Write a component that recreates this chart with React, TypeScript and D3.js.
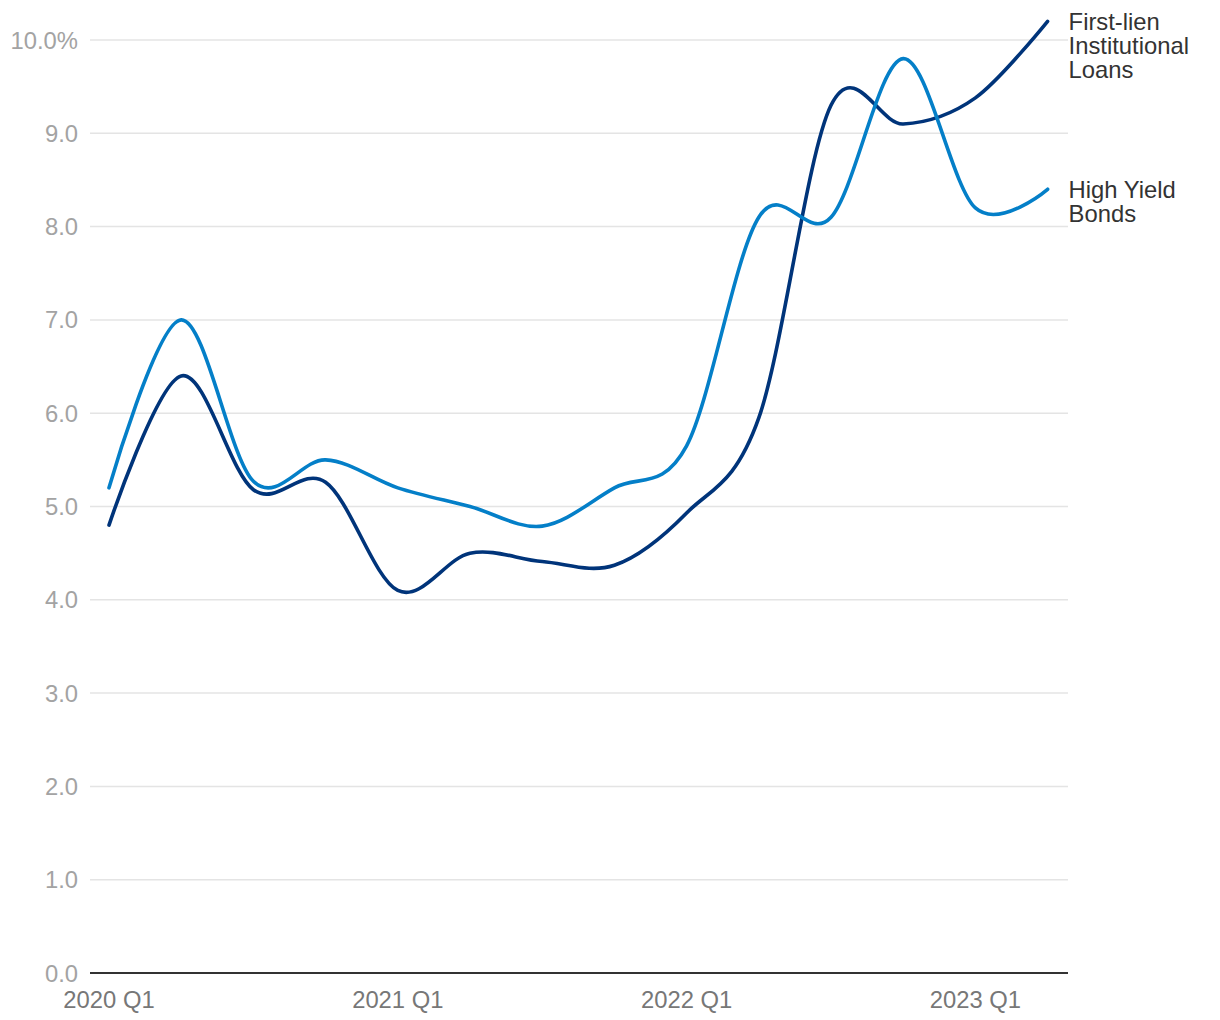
import React from 'react'
import * as d3 from 'd3'

const quarters = [
  '2020 Q1', '2020 Q2', '2020 Q3', '2020 Q4',
  '2021 Q1', '2021 Q2', '2021 Q3', '2021 Q4',
  '2022 Q1', '2022 Q2', '2022 Q3', '2022 Q4',
  '2023 Q1', '2023 Q2'
]

const highYield = [5.2, 7.0, 5.27, 5.5, 5.2, 5.0, 4.79, 5.2, 5.65, 8.1, 8.1, 9.8, 8.2, 8.4]
const firstLien = [4.8, 6.4, 5.18, 5.26, 4.1, 4.5, 4.41, 4.37, 4.93, 5.95, 9.3, 9.1, 9.38, 10.2]

const yTicks = [0, 1, 2, 3, 4, 5, 6, 7, 8, 9, 10]
const xTickLabels = ['2020 Q1', '2021 Q1', '2022 Q1', '2023 Q1']

const series = [
  { name: 'First-lien', lines: ['First-lien', 'Institutional', 'Loans'], values: firstLien, color: '#00347a' },
  { name: 'High Yield', lines: ['High Yield', 'Bonds'], values: highYield, color: '#047fc8' }
]

const W = 1220
const H = 1020
const plotLeft = 90
const plotRight = 1068
const FONT = '"Liberation Sans", Arial, Helvetica, sans-serif'
const FS = 23.8

export default function App() {
  const x = d3.scalePoint<string>().domain(quarters).range([109, 1047.6])
  const y = d3.scaleLinear().domain([0, 10]).range([973, 40])

  const line = d3
    .line<number>()
    .x((_, i) => x(quarters[i]) as number)
    .y(d => y(d))
    .curve(d3.curveCardinal.tension(0))

  return (
    <div style={{ position: 'absolute', left: 0, top: 0 }}>
      <svg width={W} height={H} style={{ display: 'block', background: '#fff' }} fontFamily={FONT}>
        {/* grid */}
        {yTicks.filter(t => t > 0).map(t => (
          <line key={t} x1={plotLeft} x2={plotRight} y1={y(t)} y2={y(t)} stroke="#e4e4e4" strokeWidth={1.5} />
        ))}
        {/* y labels */}
        {yTicks.map(t => (
          <text key={t} x={78} y={y(t)} dy="0.36em" textAnchor="end" fontSize={FS} fill="#a3a3a3">
            {t === 10 ? '10.0%' : t.toFixed(1)}
          </text>
        ))}
        {/* x axis */}
        <line x1={plotLeft} x2={plotRight} y1={y(0)} y2={y(0)} stroke="#333" strokeWidth={2} />
        {xTickLabels.map(q => (
          <text key={q} x={x(q)} y={y(0) + 35} textAnchor="middle" fontSize={FS} fill="#777">
            {q}
          </text>
        ))}
        {/* lines */}
        {series.map(s => (
          <path key={s.name} d={line(s.values) || ''} fill="none" stroke={s.color} strokeWidth={3.6} strokeLinecap="round" strokeLinejoin="round" />
        ))}
        {/* end labels */}
        {series.map(s => {
          const last = s.values[s.values.length - 1]
          const lx = (x(quarters[quarters.length - 1]) as number) + 21
          return (
            <text key={s.name} x={lx} y={y(last)} fontSize={FS} fill="#333">
              {s.lines.map((l, i) => (
                <tspan key={l} x={lx} dy={i === 0 ? '0.36em' : 24}>{l}</tspan>
              ))}
            </text>
          )
        })}
      </svg>
    </div>
  )
}
